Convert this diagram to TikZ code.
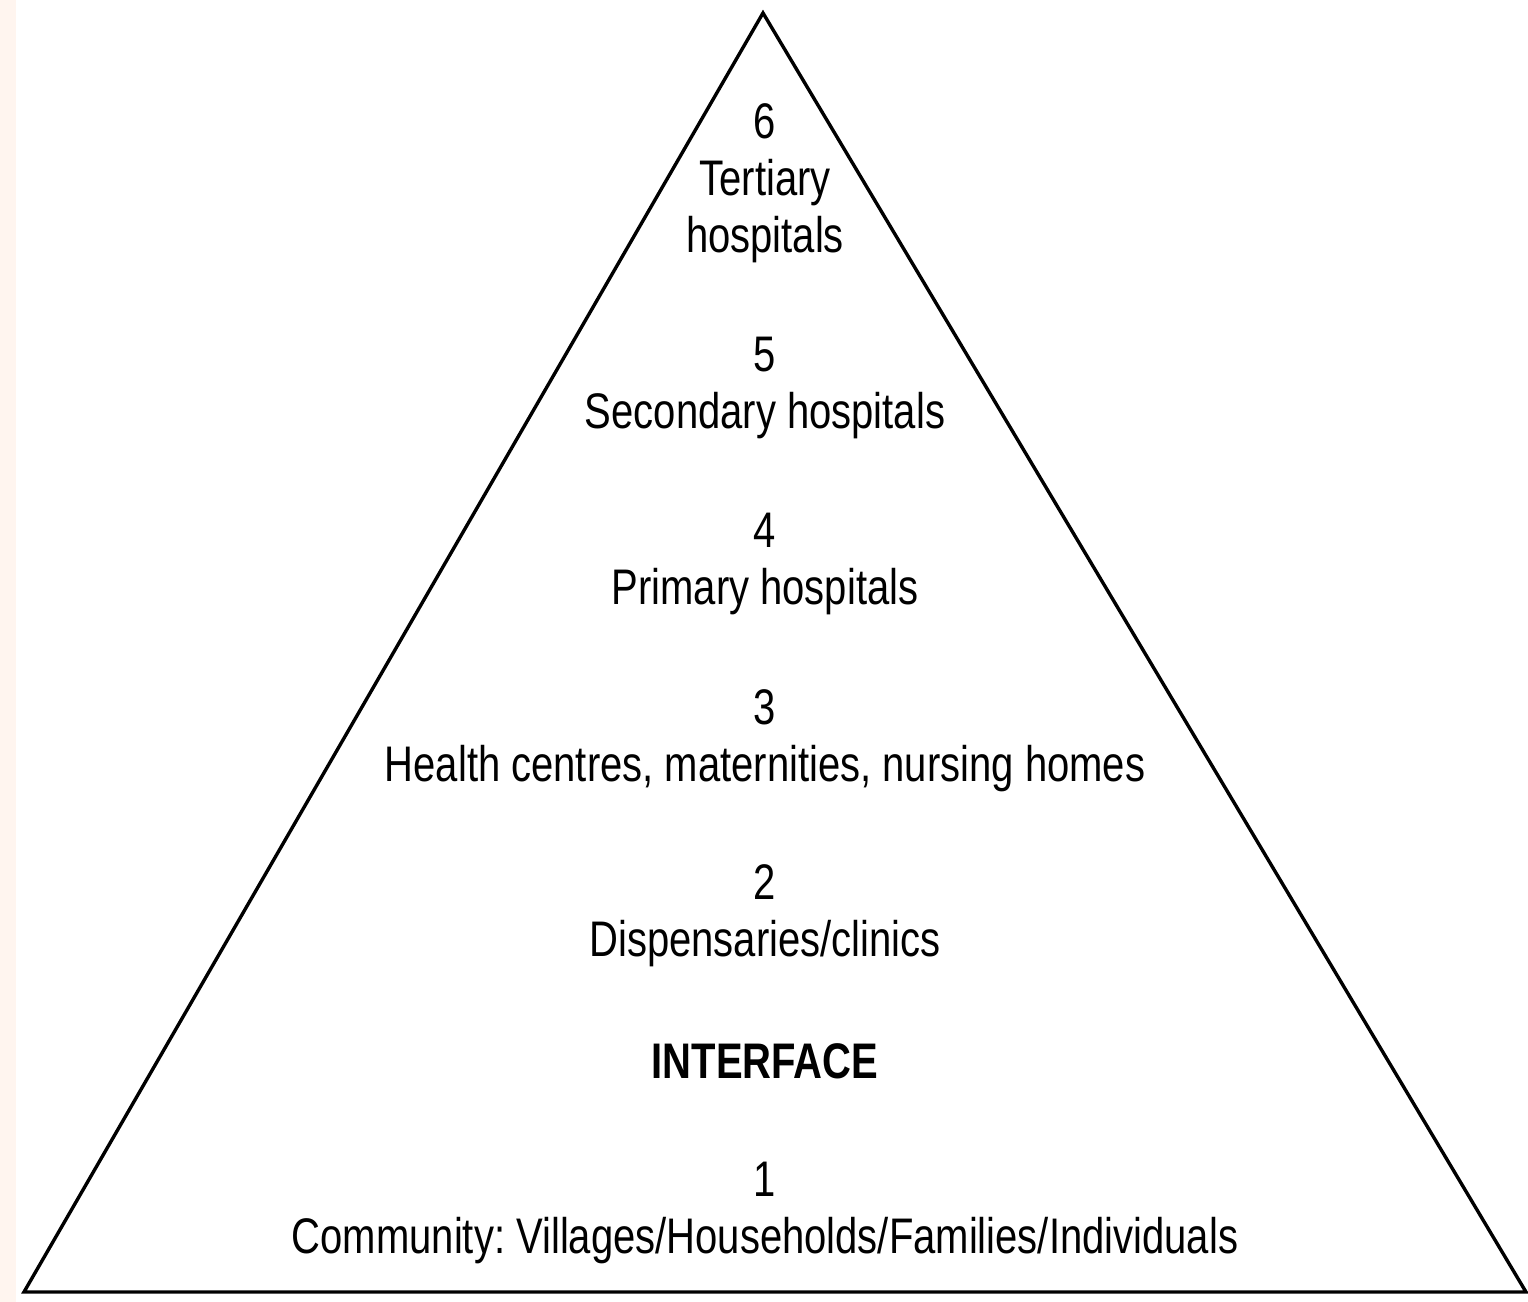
\documentclass[tikz,border=0pt]{standalone}
\usepackage{fontspec}
\setmainfont{Liberation Sans}[FakeStretch=0.8]
\usepackage{tikz}
\usetikzlibrary{positioning}
\definecolor{stripcol}{RGB}{255,245,239}
\frenchspacing

\begin{document}
\begin{tikzpicture}[line cap=round,line join=miter,x=0.5pt,y=0.5pt,
	level/.style={align=center,inner sep=0pt,font=\fontsize{25}{28.5}\selectfont},
	tag/.style={inner sep=0pt,font=\fontsize{25}{28.5}\selectfont\bfseries}]
		\useasboundingbox (0,0) rectangle (1528,1302);
		%%%%%%%%%%%%%%% S T R I P %%%%%%%%%%%%%%%%
		\fill [stripcol] (0,0) rectangle (16,1302);
		%%%%%%%%%%%%%%% P Y R A M I D %%%%%%%%%%%%%%%%
		\coordinate (apex) at (763,1289);
		\coordinate (baseL) at (24,10);
		\coordinate (baseR) at (1526,10);
		\draw [line width=1.7pt] (baseL) -- (apex) -- (baseR) -- cycle;
		%%%%%%%%%%%%%%% L E V E L S %%%%%%%%%%%%%%%%
		%level 6
		\node [level] (lvlsix) at (765,1119) {6\\Tertiary\\hospitals};
		%level 5
		\node [level] (lvlfive) at (765,914) {5\\Secondary hospitals};
		%level 4
		\node [level] (lvlfour) at (765,738) {4\\Primary hospitals};
		%level 3
		\node [level] (lvlthree) at (765,561) {3\\Health centres, maternities, nursing homes};
		%level 2
		\node [level] (lvltwo) at (765,386) {2\\Dispensaries/clinics};
		%interface
		\node [tag] (iface) at (765,241) {INTERFACE};
		%level 1
		\node [level] (lvlone) at (765,89) {1\\Community: Villages/Households/Families/Individuals};
	\end{tikzpicture}
\end{document}
